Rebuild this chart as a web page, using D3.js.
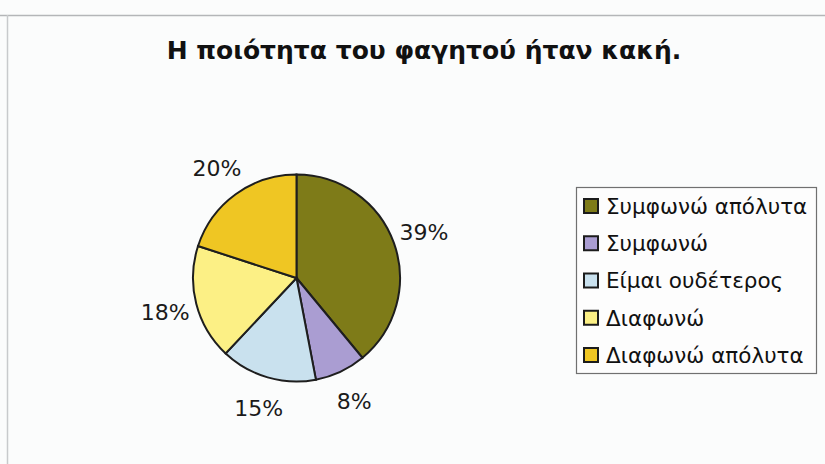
<!DOCTYPE html>
<html>
<head>
<meta charset="utf-8">
<script src="https://cdn.jsdelivr.net/npm/d3@7"></script>
<style>
  body { margin: 0; background: #fbfcfc; }
  svg { display: block; font-family: "DejaVu Sans", Verdana, sans-serif; }
</style>
</head>
<body>
<svg id="chart" width="825" height="464"></svg>
<script>
// Survey responses for the statement about food quality
const categories = ["Συμφωνώ απόλυτα", "Συμφωνώ", "Είμαι ουδέτερος", "Διαφωνώ", "Διαφωνώ απόλυτα"];
const percentages = [39, 8, 15, 18, 20];
const sliceColors = ["#7e7b18", "#aa9dd2", "#c9e1ee", "#fcf085", "#efc623"];
const titleText = "Η ποιότητα του φαγητού ήταν κακή.";

const svg = d3.select("#chart");
const W = 825, H = 464;

// Outer frame
svg.append("line").attr("x1", 0).attr("x2", W).attr("y1", 15.5).attr("y2", 15.5)
  .attr("stroke", "#b4b6b8").attr("stroke-width", 1.5);
svg.append("line").attr("x1", 7.5).attr("x2", 7.5).attr("y1", 15).attr("y2", H)
  .attr("stroke", "#c8cacc").attr("stroke-width", 1.5);

// Title
svg.append("text")
  .attr("x", 424).attr("y", 59)
  .attr("text-anchor", "middle")
  .attr("font-size", 25).attr("font-weight", "bold").attr("fill", "#111")
  .text(titleText);

// Pie
const cx = 296.5, cy = 278, r = 103.5;
const color = d3.scaleOrdinal().domain(categories).range(sliceColors);
const pie = d3.pie().sort(null).value(d => d.value);
const data = categories.map((c, i) => ({ cat: c, value: percentages[i] }));
const arcs = pie(data);
const arc = d3.arc().innerRadius(0).outerRadius(r);
const g = svg.append("g").attr("transform", `translate(${cx},${cy})`);

g.selectAll("path").data(arcs).join("path")
  .attr("d", arc)
  .attr("fill", d => color(d.data.cat))
  .attr("stroke", "#1e1e1e").attr("stroke-width", 2);

// Percentage labels outside the slices
const labelArc = d3.arc().innerRadius(r + 32).outerRadius(r + 32);
g.selectAll("text.pct").data(arcs).join("text")
  .attr("class", "pct")
  .attr("transform", d => {
    const [x, y] = labelArc.centroid(d);
    return `translate(${x},${y})`;
  })
  .attr("text-anchor", "middle")
  .attr("dy", "0.36em")
  .attr("font-size", 22).attr("fill", "#1a1a1a")
  .text(d => d.data.value + "%");

// Legend
const lx = 576, ly = 187, lw = 240, lh = 186;
svg.append("rect").attr("x", lx + 0.5).attr("y", ly + 0.5).attr("width", lw).attr("height", lh)
  .attr("fill", "#fdfdfd").attr("stroke", "#707070").attr("stroke-width", 1.2);
const legendY = d3.scalePoint().domain(categories).range([ly + 19, ly + 168]);
const items = svg.selectAll("g.leg").data(categories).join("g")
  .attr("class", "leg")
  .attr("transform", c => `translate(${lx + 8},${legendY(c)})`);
items.append("rect")
  .attr("x", 0).attr("y", -7).attr("width", 14).attr("height", 14)
  .attr("fill", c => color(c)).attr("stroke", "#1c1c1c").attr("stroke-width", 2);
items.append("text")
  .attr("x", 22).attr("y", 0).attr("dy", "0.36em")
  .attr("font-size", 21.5).attr("fill", "#111")
  .text(c => c);
</script>
</body>
</html>
